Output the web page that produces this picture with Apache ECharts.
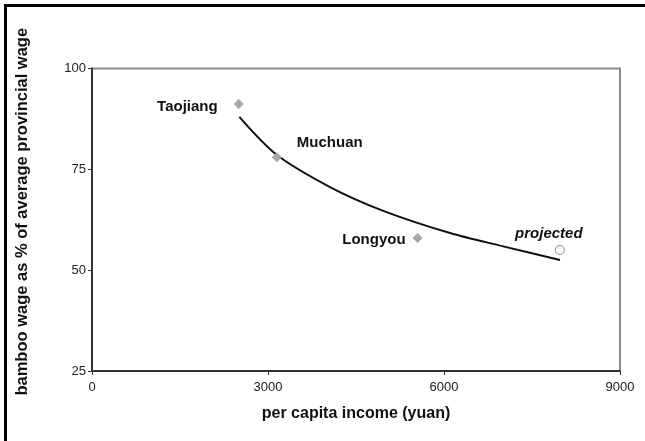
<!DOCTYPE html>
<html><head><meta charset="utf-8">
<script src="https://cdn.jsdelivr.net/npm/echarts@6/dist/echarts.min.js"></script>
<style>html,body{margin:0;padding:0;background:#fff}#c{width:645px;height:441px}</style>
</head><body><div id="c"></div>
<script>
const xTicks = [0, 3000, 6000, 9000];
const yTicks = [25, 50, 75, 100];
const places = ['Taojiang', 'Muchuan', 'Longyou'];
const placeIncome = [2500, 3150, 5550];
const placeWage = [91.2, 78, 58];
const projectedPoint = [7975, 55];
const trendIncome = [2511, 3148, 4057, 4965, 6102, 7010, 7977];
const trendWage = [88.0, 78.6, 70.6, 64.7, 59.2, 55.9, 52.5];

const font = "'Liberation Sans', Arial, Helvetica, sans-serif";
const labelCfg = [
  {position: 'left', distance: 16, offset: [0, 3]},
  {position: 'right', distance: 15, offset: [0, -14]},
  {position: 'left', distance: 7, offset: [0, 2]}
];
const chart = echarts.init(document.getElementById('c'), null, {renderer: 'canvas'});
chart.setOption({
  animation: false,
  backgroundColor: '#fff',
  graphic: [{type: 'rect', left: 3, top: 3, shape: {width: 800, height: 600},
    style: {fill: 'none', stroke: '#000', lineWidth: 3}, silent: true, z: 100}],
  grid: {left: 92, right: 25, top: 68.5, bottom: 70, show: true, borderColor: '#8c8c8c', borderWidth: 2, backgroundColor: 'transparent'},
  xAxis: {
    type: 'value', min: xTicks[0], max: xTicks[xTicks.length - 1], interval: 3000,
    name: 'per capita income (yuan)', nameLocation: 'middle', nameGap: 35,
    nameTextStyle: {fontFamily: font, fontWeight: 'bold', fontSize: 16, color: '#111'},
    axisLine: {lineStyle: {color: '#333', width: 2}},
    axisTick: {show: true, length: 4, lineStyle: {color: '#333', width: 1}},
    axisLabel: {fontFamily: font, fontSize: 13, color: '#222', margin: 10, showMaxLabel: true, showMinLabel: true,
      formatter: v => String(v)},
    splitLine: {show: false}
  },
  yAxis: {
    type: 'value', min: yTicks[0], max: yTicks[yTicks.length - 1], interval: 25,
    name: 'bamboo wage as % of average provincial wage', nameLocation: 'middle', nameGap: 61,
    nameTextStyle: {fontFamily: font, fontWeight: 'bold', fontSize: 16.5, color: '#111', padding: [0, 0, 0, 16]},
    axisLine: {show: true, lineStyle: {color: '#333', width: 2}},
    axisTick: {show: true, length: 4, lineStyle: {color: '#333', width: 1}},
    axisLabel: {fontFamily: font, fontSize: 13, color: '#222', margin: 6, formatter: v => String(v)},
    splitLine: {show: false}
  },
  series: [
    {
      type: 'line', smooth: 0.3, symbol: 'none',
      data: trendIncome.map((x, i) => [x, trendWage[i]]),
      lineStyle: {color: '#111', width: 2}, z: 2
    },
    {
      type: 'scatter', symbol: 'diamond', symbolSize: 10,
      itemStyle: {color: '#a6a6a6', opacity: 1},
      data: places.map((p, i) => ({
        value: [placeIncome[i], placeWage[i]],
        label: Object.assign({show: true, formatter: p, fontFamily: font, fontWeight: 'bold', fontSize: 15, color: '#111', opacity: 1, textBorderWidth: 0}, labelCfg[i])
      })), z: 3
    },
    {
      type: 'scatter', symbol: 'circle', symbolSize: 9,
      itemStyle: {color: '#fff', borderColor: '#999', borderWidth: 1.2, opacity: 1},
      data: [{value: projectedPoint, label: {show: true, formatter: 'projected', position: 'top', distance: 4, offset: [-11, 0],
        fontFamily: font, fontWeight: 'bold', fontStyle: 'italic', fontSize: 15, color: '#111', opacity: 1, textBorderWidth: 0}}], z: 3
    }
  ]
});
</script></body></html>
